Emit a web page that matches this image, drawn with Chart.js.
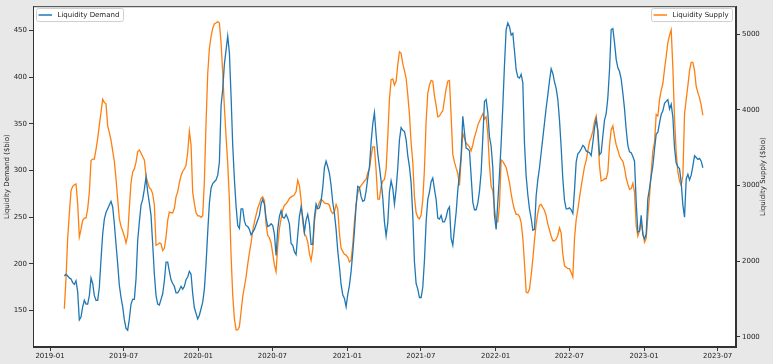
<!DOCTYPE html>
<html>
<head>
<meta charset="utf-8">
<script src="https://cdn.jsdelivr.net/npm/chart.js@4.4.0/dist/chart.umd.min.js"></script>
<style>
  html, body { margin: 0; padding: 0; background: #e8e8e8; }
  #wrap { width: 773px; height: 364px; }
</style>
</head>
<body>
<div id="wrap"><canvas id="chart" width="773" height="364"></canvas></div>
<script>
// samples: first one ~2019-02-05, then every ~4.1 days
const startDay = 35.25;   // days after 2019-01-01
const stepDays = 4.1;

// Liquidity Demand ($bio), left axis
const demand = [
  187,189,187,185,184,180,178,182,170,140,143,154,161,157,157,166,185,179,166,161,161,175,205,232,248,255,259,263,267,261,243,221,200,177,164,154,140,131,129,141,157,162,162,184,225,245,263,269,280,293,277,265,252,221,189,166,157,156,162,168,182,202,202,192,183,179,176,
  169,169,172,176,173,176,183,186,192,189,168,153,147,141,145,152,159,173,200,234,265,281,286,288,290,295,309,369,387,414,429,444,426,380,327,291,262,241,238,259,259,246,241,240,237,231,234,237,242,247,252,264,269,264,249,240,241,243,241,232,209,237,251,257,250,249,253,249,243,
  222,220,213,210,231,251,261,250,234,247,253,243,221,221,250,264,259,260,267,282,303,310,304,297,284,266,254,237,214,197,178,167,163,154,167,177,192,212,235,262,283,282,272,267,268,278,292,304,330,350,362,338,318,304,289,271,245,230,244,277,289,281,264,280,303,333,346,343,342,
  333,316,304,287,252,202,179,173,164,164,175,204,245,269,277,288,292,280,269,249,248,252,245,245,250,258,261,227,220,238,255,279,296,316,358,341,324,323,321,294,266,258,258,265,278,298,335,374,376,362,336,326,303,252,237,266,296,329,369,413,451,458,454,445,447,428,408,400,399,
  403,394,329,294,274,259,249,236,237,273,290,303,319,335,351,367,381,396,409,404,395,388,376,354,325,291,268,259,259,260,258,254,279,309,318,320,323,327,325,321,320,319,316,330,346,355,343,317,319,337,354,361,378,408,451,452,437,419,410,406,398,383,366,344,327,320,319,315,310,
  266,234,235,252,231,227,232,270,281,294,305,323,339,341,351,360,364,372,374,376,366,371,357,324,308,304,302,287,263,250,291,296,290,295,305,316,314,312,313,310,303
];

// Liquidity Supply ($bio), right axis
const supply = [
  1370,1770,2300,2630,2930,2990,3010,3020,2760,2320,2420,2540,2570,2570,2690,2910,3330,3350,3350,3480,3620,3800,3970,4140,4100,4080,3790,3700,3600,3460,3320,3090,2820,2560,2460,2400,2330,2240,2340,2710,3040,3180,3220,3310,3450,3470,3430,3380,3340,3130,3040,2970,2950,2890,2740,2210,2220,2240,2230,2140,2170,2320,2540,2650,2640,2640,2700,
  2850,2920,3040,3130,3190,3220,3270,3440,3720,3540,2910,2760,2640,2600,2600,2580,2600,3060,3830,4480,4810,4970,5080,5140,5150,5170,5150,4890,4490,4040,3650,3290,2820,2080,1550,1240,1090,1090,1130,1330,1530,1660,1790,1960,2110,2240,2400,2520,2610,2700,2760,2830,2850,2800,2490,2340,2310,2240,2100,1950,1860,2200,2430,2560,2680,2740,2760,2790,2830,
  2850,2860,2880,2920,3070,3000,2810,2520,2360,2330,2250,2100,2010,2150,2520,2690,2720,2780,2820,2800,2770,2760,2760,2740,2660,2630,2650,2750,2690,2370,2170,2130,2090,2080,2050,1990,2010,2220,2520,2750,2900,2970,3000,3030,3060,3080,3170,3220,3380,3510,3510,3200,2820,2820,2990,3060,3080,3220,3650,4140,4400,4410,4330,4380,4600,4770,4750,4610,4520,
  4420,4200,3940,3570,3310,2850,2640,2580,2560,2610,2810,3220,3850,4220,4330,4390,4380,4190,4060,3910,3920,3960,3990,4140,4280,4380,4390,3920,3410,3310,3230,3160,3000,3350,3690,3630,3560,3540,3510,3460,3540,3640,3710,3800,3850,3900,3950,3880,3910,3690,3270,2990,2930,2700,2530,2520,2740,3340,3320,3280,3240,3140,3040,2890,2770,2680,2620,2620,2590,
  2510,2310,1970,1590,1580,1630,1810,2030,2280,2490,2640,2740,2750,2710,2670,2600,2490,2410,2330,2270,2270,2290,2340,2440,2370,2090,1940,1920,1900,1900,1850,1790,2300,2550,2680,2840,2990,3120,3250,3330,3460,3580,3640,3720,3850,3920,3690,3260,3060,3070,3090,3090,3180,3530,3740,3790,3650,3540,3470,3390,3350,3320,3230,3100,3020,2950,2960,3030,2910,
  2470,2330,2400,2520,2380,2250,2300,2600,2860,3180,3460,3570,3940,3920,4140,4260,4350,4540,4710,4890,4990,5060,4560,3880,3440,3180,3060,3000,3130,3950,4140,4320,4520,4630,4630,4520,4310,4230,4160,4060,3930
];

const tickLabels = ['2019-01','2019-07','2020-01','2020-07','2021-01','2021-07','2022-01','2022-07','2023-01','2023-07'];
const demandTicks = [150, 200, 250, 300, 350, 400, 450];
const supplyTicks = [1000, 2000, 3000, 4000, 5000];

const BLUE = '#1f77b4';
const ORANGE = '#ff7f0e';
const FONT = { family: 'DejaVu Sans', size: 7 };
const INK = '#222';

const day0 = Date.UTC(2019, 0, 1);
function dayOf(label) {
  const [y, m] = label.split('-').map(Number);
  return (Date.UTC(y, m - 1, 1) - day0) / 86400000;
}
const tickDays = tickLabels.map(dayOf);

const toPoints = arr => arr.map((v, i) => ({ x: startDay + i * stepDays, y: v }));

// gray figure, white axes box, top/right spines, axis title and the two legends
const framePlugin = {
  id: 'frame',
  beforeDraw(chart) {
    const { ctx, chartArea: a } = chart;
    ctx.save();
    ctx.fillStyle = '#e8e8e8';
    ctx.fillRect(0, 0, chart.width, chart.height);
    ctx.fillStyle = '#fff';
    ctx.fillRect(a.left, a.top, a.right - a.left, a.bottom - a.top);
    ctx.restore();
  },
  afterDraw(chart) {
    const { ctx, chartArea: a } = chart;
    ctx.save();
    ctx.strokeStyle = '#333';
    ctx.lineWidth = 1;
    ctx.strokeRect(a.left + 0.5, a.top + 0.5, a.right - a.left - 1, a.bottom - a.top - 1);

    // right axis title, reads bottom to top
    ctx.fillStyle = INK;
    ctx.font = '7px "DejaVu Sans"';
    ctx.textAlign = 'center';
    ctx.textBaseline = 'middle';
    ctx.translate(763, (a.top + a.bottom) / 2);
    ctx.rotate(-Math.PI / 2);
    ctx.fillText('Liquidity Supply ($bio)', 0, 0);
    ctx.restore();

    const legend = (x, w, color, text) => {
      ctx.save();
      ctx.fillStyle = 'rgba(255,255,255,0.85)';
      ctx.strokeStyle = '#cfcfcf';
      ctx.lineWidth = 1;
      ctx.beginPath();
      ctx.roundRect(x + 0.5, 8.5, w, 13, 2);
      ctx.fill();
      ctx.stroke();
      ctx.strokeStyle = color;
      ctx.lineWidth = 1.5;
      ctx.beginPath();
      ctx.moveTo(x + 2.5, 15);
      ctx.lineTo(x + 16, 15);
      ctx.stroke();
      ctx.fillStyle = INK;
      ctx.font = '7px "DejaVu Sans"';
      ctx.textBaseline = 'middle';
      ctx.fillText(text, x + 21.5, 15.5);
      ctx.restore();
    };
    legend(36, 87, BLUE, 'Liquidity Demand');
    legend(651, 81, ORANGE, 'Liquidity Supply');
  }
};

new Chart(document.getElementById('chart'), {
  type: 'line',
  data: {
    datasets: [
      { label: 'Liquidity Demand', data: toPoints(demand), borderColor: BLUE, borderWidth: 1.3, yAxisID: 'y' },
      { label: 'Liquidity Supply', data: toPoints(supply), borderColor: ORANGE, borderWidth: 1.3, yAxisID: 'y1' }
    ]
  },
  options: {
    responsive: false,
    animation: false,
    devicePixelRatio: 1,
    layout: { padding: { top: 5, left: 0, right: 0, bottom: 0 } },
    elements: { point: { radius: 0 }, line: { tension: 0 } },
    plugins: { legend: { display: false }, tooltip: { enabled: false } },
    scales: {
      x: {
        type: 'linear',
        min: (33 - 50) / 0.40664,
        max: (736 - 50) / 0.40664,
        afterBuildTicks: s => { s.ticks = tickDays.map(v => ({ value: v })); },
        afterFit: s => { s.height = 17; },
        ticks: { callback: (v, i) => tickLabels[i], autoSkip: false, maxRotation: 0, font: FONT, color: INK, padding: 1 },
        grid: { drawOnChartArea: false, tickLength: 4, color: '#333' },
        border: { color: '#333' }
      },
      y: {
        position: 'left',
        min: 111,
        max: 476,
        afterBuildTicks: s => { s.ticks = demandTicks.map(v => ({ value: v })); },
        afterFit: s => { s.width = 33; },
        ticks: { callback: v => String(v), font: FONT, color: INK, padding: 2 },
        grid: { drawOnChartArea: false, tickLength: 4, color: '#333' },
        border: { color: '#333' },
        title: { display: true, text: 'Liquidity Demand ($bio)', font: FONT, color: INK, padding: { top: 3, bottom: 0 } }
      },
      y1: {
        position: 'right',
        min: 864,
        max: 5373,
        afterBuildTicks: s => { s.ticks = supplyTicks.map(v => ({ value: v })); },
        afterFit: s => { s.width = 37; },
        ticks: { callback: v => String(v), font: FONT, color: INK, padding: 2 },
        grid: { drawOnChartArea: false, tickLength: 4, color: '#333' },
        border: { color: '#333' }
      }
    }
  },
  plugins: [framePlugin]
});
</script>
</body>
</html>
